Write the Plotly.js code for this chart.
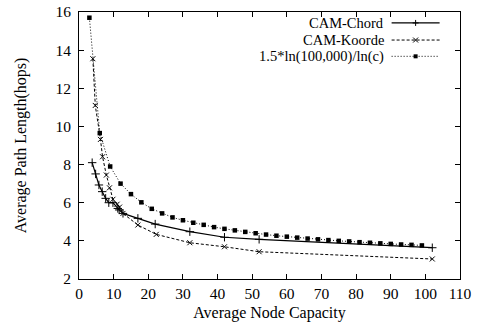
<!DOCTYPE html>
<html>
<head>
<meta charset="utf-8">
<script src="https://cdn.plot.ly/plotly-3.0.1.min.js"></script>
<style>html,body{margin:0;padding:0;background:#fff;}#chart{width:479px;height:334px;}</style>
</head>
<body>
<div id="chart"></div>
<script>
// Data
var chordX = [3.8, 4.8, 5.75, 6.7, 7.7, 8.6, 9.8, 11.2, 11.6, 12.7, 17, 22, 32, 42, 52, 102];
var chordY = [8.1, 7.51, 6.93, 6.58, 6.23, 6.0, 6.0, 5.7, 5.62, 5.44, 5.18, 4.88, 4.48, 4.19, 4.08, 3.64];

var koordeX = [4, 4.7, 6.2, 6.8, 7.9, 8.8, 9.8, 11, 11.7, 12.7, 17, 22.3, 32, 42, 52, 102];
var koordeY = [13.55, 11.1, 9.32, 8.41, 7.45, 6.78, 6.18, 5.92, 5.77, 5.44, 4.83, 4.34, 3.9, 3.69, 3.43, 3.05];

var formulaX = [3, 6, 9, 12, 15, 18, 21, 24, 27, 30, 33, 36, 39, 42, 45, 48, 51, 54, 57, 60, 63, 66, 69, 72, 75, 78, 81, 84, 87, 90, 93, 96, 99];
var formulaY = [15.7, 9.65, 7.9, 7.0, 6.45, 6.02, 5.68, 5.44, 5.23, 5.08, 4.95, 4.84, 4.72, 4.63, 4.55, 4.47, 4.4, 4.33, 4.27, 4.22, 4.17, 4.12, 4.08, 4.04, 4.0, 3.97, 3.93, 3.9, 3.87, 3.84, 3.81, 3.79, 3.76];

var seriesNames = ['CAM-Chord', 'CAM-Koorde', '1.5*ln(100,000)/ln(c)'];
var xTicks = [0, 10, 20, 30, 40, 50, 60, 70, 80, 90, 100, 110];
var yTicks = [2, 4, 6, 8, 10, 12, 14, 16];

var font = 'Liberation Serif, Times New Roman, serif';

var traces = [
  {x: chordX, y: chordY, name: seriesNames[0], mode: 'lines+markers', type: 'scatter',
   line: {color: '#000', width: 1.2},
   marker: {symbol: 'cross-thin-open', size: 6, line: {color: '#000', width: 1}}},
  {x: koordeX, y: koordeY, name: seriesNames[1], mode: 'lines+markers', type: 'scatter',
   line: {color: '#000', width: 1, dash: '3px,2px'},
   marker: {symbol: 'x-thin-open', size: 5, line: {color: '#000', width: 1}}},
  {x: formulaX, y: formulaY, name: seriesNames[2], mode: 'lines+markers', type: 'scatter',
   line: {color: '#000', width: 1, dash: '1px,2px'},
   marker: {symbol: 'square', size: 4.5, color: '#000'}}
];

// custom gnuplot-like legend (text right, sample left of it)
var legRows = [0.959, 0.895, 0.834];
var textX = 0.807, s0 = 0.8205, s1 = 0.9465, sm = 0.8835;
var dashes = ['solid', '3px,2px', '1px,2px'];
var shapes = [], annotations = [];
for (var i = 0; i < 3; i++) {
  annotations.push({xref: 'paper', yref: 'paper', x: textX, y: legRows[i], xanchor: 'right', yanchor: 'middle',
    text: seriesNames[i], showarrow: false, font: {family: font, size: 14.5, color: '#000'}});
  shapes.push({type: 'line', xref: 'paper', yref: 'paper', x0: s0, x1: s1, y0: legRows[i], y1: legRows[i],
    line: {color: '#000', width: i === 0 ? 1.2 : 1, dash: dashes[i]}});
}
// sample markers
shapes.push({type: 'line', xref: 'paper', yref: 'paper', xsizemode: 'pixel', ysizemode: 'pixel', xanchor: sm, yanchor: legRows[0], x0: -3, x1: 3, y0: 0, y1: 0, line: {color: '#000', width: 1}});
shapes.push({type: 'line', xref: 'paper', yref: 'paper', xsizemode: 'pixel', ysizemode: 'pixel', xanchor: sm, yanchor: legRows[0], x0: 0, x1: 0, y0: -3, y1: 3, line: {color: '#000', width: 1}});
shapes.push({type: 'line', xref: 'paper', yref: 'paper', xsizemode: 'pixel', ysizemode: 'pixel', xanchor: sm, yanchor: legRows[1], x0: -2.5, x1: 2.5, y0: -2.5, y1: 2.5, line: {color: '#000', width: 1}});
shapes.push({type: 'line', xref: 'paper', yref: 'paper', xsizemode: 'pixel', ysizemode: 'pixel', xanchor: sm, yanchor: legRows[1], x0: -2.5, x1: 2.5, y0: 2.5, y1: -2.5, line: {color: '#000', width: 1}});
shapes.push({type: 'rect', xref: 'paper', yref: 'paper', xsizemode: 'pixel', ysizemode: 'pixel', xanchor: sm, yanchor: legRows[2], x0: -2, x1: 2, y0: -2, y1: 2, fillcolor: '#000', line: {width: 0}});

var layout = {
  width: 479, height: 334,
  margin: {l: 79, r: 19, t: 12, b: 55, pad: 0},
  paper_bgcolor: '#fff', plot_bgcolor: '#fff',
  showlegend: false,
  font: {family: font, size: 15, color: '#000'},
  xaxis: {
    range: [0, 110], tickvals: xTicks, ticktext: xTicks.map(String),
    ticks: 'inside', ticklen: 5, tickcolor: '#000', tickwidth: 1,
    showline: true, linecolor: '#000', linewidth: 1, mirror: 'allticks',
    showgrid: false, zeroline: false,
    tickfont: {family: font, size: 15.5},
    title: {text: 'Average Node Capacity', font: {family: font, size: 16}, standoff: 6}
  },
  yaxis: {
    range: [2, 16], tickvals: yTicks, ticktext: yTicks.map(String),
    ticks: 'inside', ticklen: 5, tickcolor: '#000', tickwidth: 1,
    ticklabelstandoff: 4,
    showline: true, linecolor: '#000', linewidth: 1, mirror: 'allticks',
    showgrid: false, zeroline: false,
    tickfont: {family: font, size: 15.5},
    title: {text: 'Average Path Length(hops)', font: {family: font, size: 16}, standoff: 24}
  },
  shapes: shapes,
  annotations: annotations
};

Plotly.newPlot('chart', traces, layout, {displayModeBar: false, staticPlot: true});
</script>
</body>
</html>
